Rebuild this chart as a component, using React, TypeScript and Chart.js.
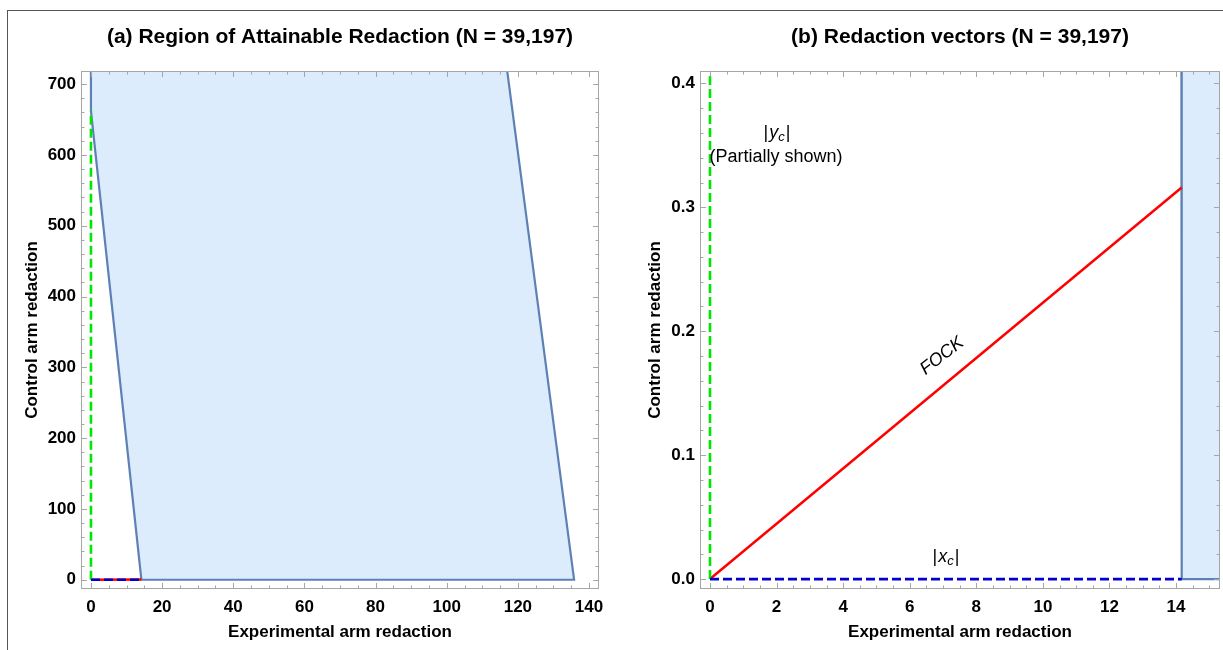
import React, { useEffect, useRef } from "react";
import { Chart, registerables } from "chart.js";

Chart.register(...registerables);

// ---- data ----
const fockX = [0, 14.17];
const fockY = [0, 0.316];
const xcX = [0, 14.17];
const xcY = [0, 0];
const ycX = [0, 0];
const ycY = [0, 662];
const regionX = [0, 0, 14.17, 135.8, 116.7];
const regionY = [730, 662, 0, 0, 730];

const leftXTicks = [0, 20, 40, 60, 80, 100, 120, 140];
const leftYTicks = [0, 100, 200, 300, 400, 500, 600, 700];
const rightXTicks = [0, 2, 4, 6, 8, 10, 12, 14];
const rightYTicks = [0, 0.1, 0.2, 0.3, 0.4];

const titleA = "(a) Region of Attainable Redaction (N = 39,197)";
const titleB = "(b) Redaction vectors (N = 39,197)";
const xTitle = "Experimental arm redaction";
const yTitle = "Control arm redaction";

const FONT = '"Liberation Sans", Arial, sans-serif';
const FILL = "rgb(221,236,253)";
const EDGE = "rgb(94,129,181)";
const GREEN = "rgb(0,230,0)";
const BLUE = "rgb(0,0,205)";
const RED = "rgb(255,0,0)";
const FRAME = "#a6a6a6";

type P = { x: number; y: number };
const pts = (xs: number[], ys: number[]): P[] => xs.map((x, i) => ({ x, y: ys[i] }));

// Sutherland-Hodgman clip of a polygon in data space (keeps canvas coordinates small)
function clipPolygon(poly: P[], xmin: number, xmax: number, ymin: number, ymax: number): P[] {
  const edges: [(p: P) => boolean, (a: P, b: P) => P][] = [
    [(p) => p.x >= xmin, (a, b) => ({ x: xmin, y: a.y + ((b.y - a.y) * (xmin - a.x)) / (b.x - a.x) })],
    [(p) => p.x <= xmax, (a, b) => ({ x: xmax, y: a.y + ((b.y - a.y) * (xmax - a.x)) / (b.x - a.x) })],
    [(p) => p.y >= ymin, (a, b) => ({ x: a.x + ((b.x - a.x) * (ymin - a.y)) / (b.y - a.y), y: ymin })],
    [(p) => p.y <= ymax, (a, b) => ({ x: a.x + ((b.x - a.x) * (ymax - a.y)) / (b.y - a.y), y: ymax })],
  ];
  let out = poly;
  for (const [inside, inter] of edges) {
    const input = out;
    out = [];
    for (let i = 0; i < input.length; i++) {
      const cur = input[i];
      const prev = input[(i + input.length - 1) % input.length];
      if (inside(cur)) {
        if (!inside(prev)) out.push(inter(prev, cur));
        out.push(cur);
      } else if (inside(prev)) {
        out.push(inter(prev, cur));
      }
    }
  }
  if (out.length) out.push({ ...out[0] });
  return out;
}

function drawAbs(ctx: CanvasRenderingContext2D, letter: string, sub: string, cx: number, cy: number, size: number) {
  ctx.save();
  ctx.fillStyle = "#000";
  ctx.textBaseline = "middle";
  ctx.textAlign = "left";
  const fBar = `${size}px ${FONT}`;
  const fLet = `italic ${size}px ${FONT}`;
  const fSub = `italic ${Math.round(size * 0.72)}px ${FONT}`;
  ctx.font = fBar;
  const wBar = ctx.measureText("|").width;
  ctx.font = fLet;
  const wLet = ctx.measureText(letter).width;
  ctx.font = fSub;
  const wSub = ctx.measureText(sub).width;
  const total = wBar * 2 + wLet + wSub + 2;
  let x = cx - total / 2;
  ctx.font = fBar;
  ctx.fillText("|", x, cy);
  x += wBar + 1;
  ctx.font = fLet;
  ctx.fillText(letter, x, cy);
  x += wLet;
  ctx.font = fSub;
  ctx.fillText(sub, x, cy + size * 0.25);
  x += wSub + 1;
  ctx.font = fBar;
  ctx.fillText("|", x, cy);
  ctx.restore();
}

type PanelCfg = {
  id: string;
  title: string;
  xMinor: number;
  xRatio: number;
  yMinor: number;
  yRatio: number;
  yTitleX: number;
  annotate?: (ctx: CanvasRenderingContext2D, chart: any) => void;
};

function framePlugin(cfg: PanelCfg) {
  return {
    id: "frame_" + cfg.id,
    afterDraw(chart: any) {
      const ctx: CanvasRenderingContext2D = chart.ctx;
      const { left, right, top, bottom } = chart.chartArea;
      const xs = chart.scales.x;
      const ys = chart.scales.y;
      ctx.save();
      ctx.strokeStyle = FRAME;
      ctx.lineWidth = 1;
      ctx.strokeRect(left + 0.5, top + 0.5, right - left - 1, bottom - top - 1);
      ctx.beginPath();
      const i0 = Math.ceil(xs.min / cfg.xMinor - 1e-9);
      const i1 = Math.floor(xs.max / cfg.xMinor + 1e-9);
      for (let i = i0; i <= i1; i++) {
        const px = Math.round(xs.getPixelForValue(i * cfg.xMinor)) + 0.5;
        const len = i % cfg.xRatio === 0 ? 6 : 3.5;
        ctx.moveTo(px, bottom);
        ctx.lineTo(px, bottom - len);
        ctx.moveTo(px, top);
        ctx.lineTo(px, top + len);
      }
      const j0 = Math.ceil(ys.min / cfg.yMinor - 1e-9);
      const j1 = Math.floor(ys.max / cfg.yMinor + 1e-9);
      for (let j = j0; j <= j1; j++) {
        const py = Math.round(ys.getPixelForValue(j * cfg.yMinor)) + 0.5;
        const len = j % cfg.yRatio === 0 ? 6 : 3.5;
        ctx.moveTo(left, py);
        ctx.lineTo(left + len, py);
        ctx.moveTo(right, py);
        ctx.lineTo(right - len, py);
      }
      ctx.stroke();

      // titles
      ctx.fillStyle = "#000";
      ctx.textAlign = "center";
      ctx.textBaseline = "middle";
      ctx.font = `bold 21px ${FONT}`;
      const cx = (left + right) / 2;
      ctx.fillText(cfg.title, cx, 37);
      ctx.font = `bold 17px ${FONT}`;
      ctx.fillText(xTitle, cx, 632);
      ctx.save();
      ctx.translate(cfg.yTitleX, (top + bottom) / 2);
      ctx.rotate(-Math.PI / 2);
      ctx.fillText(yTitle, 0, 0);
      ctx.restore();
      if (cfg.annotate) cfg.annotate(ctx, chart);
      ctx.restore();
    },
  };
}

function datasets(xr: [number, number], yr: [number, number]) {
  const mx = (xr[1] - xr[0]) * 0.05;
  const my = (yr[1] - yr[0]) * 0.05;
  const region = clipPolygon(pts(regionX, regionY), xr[0] - mx, xr[1] + mx, yr[0] - my, yr[1] + my);
  return [
    {
      data: region,
      showLine: true,
      fill: "shape",
      backgroundColor: FILL,
      borderColor: EDGE,
      borderWidth: 2.2,
      pointRadius: 0,
      order: 4,
    },
    {
      data: pts(fockX, fockY),
      showLine: true,
      borderColor: RED,
      borderWidth: 2.5,
      pointRadius: 0,
      order: 3,
    },
    {
      data: pts(ycX, ycY),
      showLine: true,
      borderColor: GREEN,
      borderWidth: 2.6,
      borderDash: [9, 4],
      pointRadius: 0,
      order: 2,
    },
    {
      data: pts(xcX, xcY),
      showLine: true,
      borderColor: BLUE,
      borderWidth: 2.6,
      borderDash: [9, 4],
      pointRadius: 0,
      order: 1,
    },
  ];
}

function makeScales(
  xr: [number, number],
  yr: [number, number],
  xt: number[],
  yt: number[],
  yWidth: number,
  yFmt: (v: number) => string
) {
  const tickFont = { family: FONT, size: 17, weight: "bold" as const };
  return {
    x: {
      type: "linear" as const,
      min: xr[0],
      max: xr[1],
      grid: { display: false, drawTicks: false },
      border: { display: false },
      afterBuildTicks: (s: any) => {
        s.ticks = xt.map((value) => ({ value }));
      },
      afterFit: (s: any) => {
        s.height = 61;
      },
      ticks: {
        color: "#000",
        font: tickFont,
        padding: 8,
        autoSkip: false,
        maxRotation: 0,
        callback: (v: any) => String(v),
      },
    },
    y: {
      type: "linear" as const,
      min: yr[0],
      max: yr[1],
      grid: { display: false, drawTicks: false },
      border: { display: false },
      afterBuildTicks: (s: any) => {
        s.ticks = yt.map((value) => ({ value }));
      },
      afterFit: (s: any) => {
        s.width = yWidth;
      },
      ticks: {
        color: "#000",
        font: tickFont,
        padding: 5,
        autoSkip: false,
        callback: (v: any) => yFmt(Number(v)),
      },
    },
  };
}

const LXR: [number, number] = [-2.8, 142.8];
const LYR: [number, number] = [-13.1, 718.6];
const RXR: [number, number] = [-0.3, 15.32];
const RYR: [number, number] = [-0.008, 0.41];

export default function App() {
  const leftRef = useRef<HTMLCanvasElement>(null);
  const rightRef = useRef<HTMLCanvasElement>(null);

  useEffect(() => {
    const left = new Chart(leftRef.current!, {
      type: "scatter",
      data: { datasets: datasets(LXR, LYR) as any },
      options: {
        animation: false,
        responsive: false,
        layout: { padding: { left: 0, top: 71, right: 21, bottom: 0 } },
        plugins: { legend: { display: false }, tooltip: { enabled: false }, title: { display: false } },
        scales: makeScales(LXR, LYR, leftXTicks, leftYTicks, 81, (v) => String(v)) as any,
      },
      plugins: [
        framePlugin({
          id: "a",
          title: titleA,
          xMinor: 5,
          xRatio: 4,
          yMinor: 20,
          yRatio: 5,
          yTitleX: 32,
        }),
      ],
    });

    const right = new Chart(rightRef.current!, {
      type: "scatter",
      data: { datasets: datasets(RXR, RYR) as any },
      options: {
        animation: false,
        responsive: false,
        layout: { padding: { left: 0, top: 71, right: 3, bottom: 0 } },
        plugins: { legend: { display: false }, tooltip: { enabled: false }, title: { display: false } },
        scales: makeScales(RXR, RYR, rightXTicks, rightYTicks, 80, (v) => v.toFixed(1)) as any,
      },
      plugins: [
        framePlugin({
          id: "b",
          title: titleB,
          xMinor: 0.5,
          xRatio: 4,
          yMinor: 0.02,
          yRatio: 5,
          yTitleX: 35,
          annotate: (ctx) => {
            drawAbs(ctx, "y", "c", 157, 133, 18);
            ctx.fillStyle = "#000";
            ctx.textAlign = "center";
            ctx.textBaseline = "middle";
            ctx.font = `18px ${FONT}`;
            ctx.fillText("(Partially shown)", 156, 157);
            drawAbs(ctx, "x", "c", 326, 557, 18);
            ctx.save();
            ctx.translate(322, 356);
            ctx.rotate((-38 * Math.PI) / 180);
            ctx.font = `italic 18px ${FONT}`;
            ctx.fillText("FOCK", 0, 0);
            ctx.restore();
          },
        }),
      ],
    });

    return () => {
      left.destroy();
      right.destroy();
    };
  }, []);

  return (
    <div style={{ position: "absolute", left: 0, top: 0, width: 1223, height: 650, overflow: "hidden", background: "#fff" }}>
      <div
        style={{
          position: "absolute",
          left: 7,
          top: 10,
          width: 1400,
          height: 800,
          borderTop: "1px solid #555",
          borderLeft: "1px solid #555",
        }}
      />
      <canvas ref={leftRef} width={620} height={650} style={{ position: "absolute", left: 0, top: 0, width: 620, height: 650 }} />
      <canvas ref={rightRef} width={603} height={650} style={{ position: "absolute", left: 620, top: 0, width: 603, height: 650 }} />
    </div>
  );
}
